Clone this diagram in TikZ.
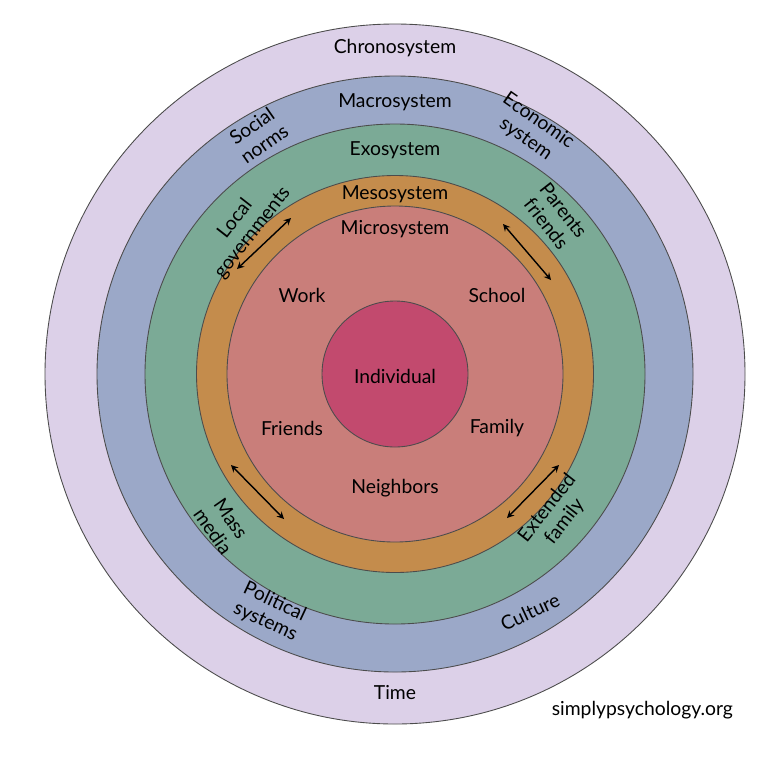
\documentclass[tikz,border=0pt]{standalone}
\usepackage{fontspec}
\setmainfont{Lato}
\begin{document}
\begin{tikzpicture}[x=0.02cm,y=-0.02cm,
  ring/.style={draw=black!70,line width=0.5pt},
  lab/.style={font=\fontsize{11}{12.5}\selectfont,align=center,inner sep=1pt},
  dbl/.style={<->,>=stealth,line width=0.8pt}]
\useasboundingbox (0,0) rectangle (780,758);
\fill[white] (0,0) rectangle (780,758);
\node[ring,circle,fill={rgb,255:red,220;green,208;blue,232},minimum size=700*0.02cm,inner sep=0] (chrono) at (395,374) {};
\node[ring,circle,fill={rgb,255:red,155;green,168;blue,200},minimum size=596*0.02cm,inner sep=0] (macro) at (395,374) {};
\node[ring,circle,fill={rgb,255:red,123;green,170;blue,150},minimum size=500*0.02cm,inner sep=0] (exo) at (395,374) {};
\node[ring,circle,fill={rgb,255:red,196;green,140;blue,76},minimum size=397*0.02cm,inner sep=0] (meso) at (395,374) {};
\node[ring,circle,fill={rgb,255:red,201;green,126;blue,122},minimum size=336*0.02cm,inner sep=0] (micro) at (395,374) {};
\node[ring,circle,fill={rgb,255:red,194;green,74;blue,110},minimum size=146*0.02cm,inner sep=0] (ind) at (395,374) {};
\node[lab] (tind) at (395,376) {Individual};
\node[lab] (tchrono) at (395,48) {Chronosystem};
\node[lab] (tmacro) at (395,102) {Macrosystem};
\node[lab] (texo) at (395,150) {Exosystem};
\node[lab] (tmeso) at (395,194) {Mesosystem};
\node[lab] (tmicro) at (395,229) {Microsystem};
\node[lab] (twork) at (302,295) {Work};
\node[lab] (tschool) at (497,295) {School};
\node[lab] (tfriends) at (292,428) {Friends};
\node[lab] (tfamily) at (497,428) {Family};
\node[lab] (tneigh) at (395,488) {Neighbors};
\node[lab] (ttime) at (395,693) {Time};
\node[lab,rotate=35] (tsoc) at (258,135) {Social\\norms};
\node[lab,rotate=-35] (tecon) at (532,130) {Economic\\system};
\node[lab,rotate=52] (tloc) at (244,226) {Local\\governments};
\node[lab,rotate=-52] (tpar) at (555,217) {Parents\\friends};
\node[lab,rotate=-55] (tmass) at (222,525) {Mass\\media};
\node[lab,rotate=52] (text) at (556,515) {Extended\\family};
\node[lab,rotate=-25] (tpol) at (270,612) {Political\\systems};
\node[lab,rotate=25] (tcul) at (530,612) {Culture};
\node[lab,anchor=east] (tweb) at (735,710) {simplypsychology.org};
\coordinate (a1) at (237,269); \coordinate (a2) at (291,218);
\coordinate (b1) at (503,224); \coordinate (b2) at (551,280);
\coordinate (c1) at (231,465); \coordinate (c2) at (284,519);
\coordinate (d1) at (507,518); \coordinate (d2) at (559,465);
\draw[dbl] (a1) -- (a2);
\draw[dbl] (b1) -- (b2);
\draw[dbl] (c1) -- (c2);
\draw[dbl] (d1) -- (d2);
\end{tikzpicture}
\end{document}
